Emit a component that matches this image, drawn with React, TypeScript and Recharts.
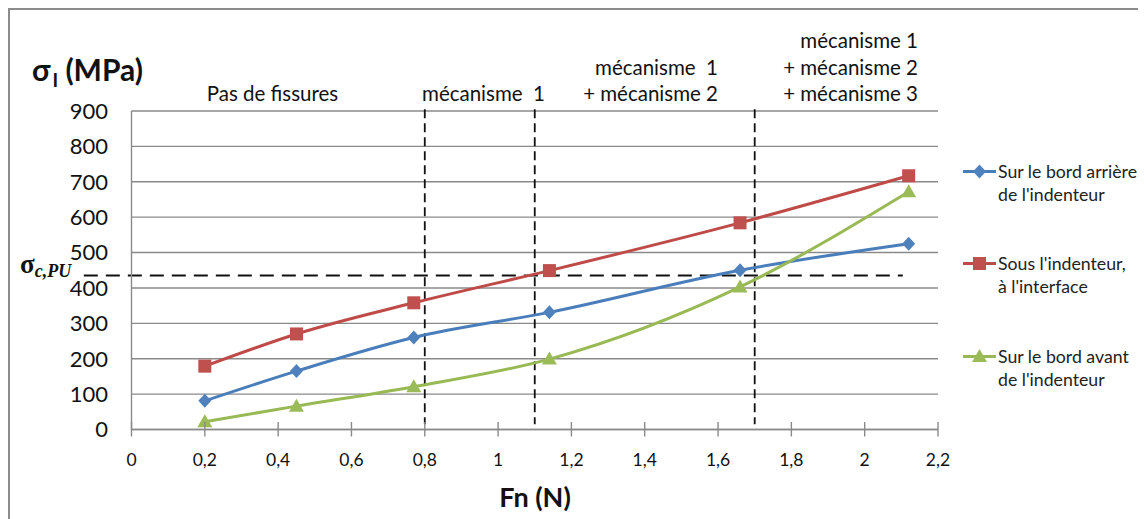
import React from 'react';
import { LineChart, Line, XAxis, YAxis, CartesianGrid, ReferenceLine, Legend } from 'recharts';

// ---- Data ----
const fnValues = [0.2, 0.45, 0.77, 1.14, 1.66, 2.12];
const bordArriere = [81, 165, 260, 331, 450, 525];
const sousIndenteur = [179, 270, 358, 449, 584, 717];
const bordAvant = [22, 66, 121, 199, 403, 672];

const xTicks = [0, 0.2, 0.4, 0.6, 0.8, 1, 1.2, 1.4, 1.6, 1.8, 2, 2.2];
const yTicks = [0, 100, 200, 300, 400, 500, 600, 700, 800, 900];

const mechanismBounds = [0.8, 1.1, 1.7];
const sigmaCPU = 435;
const sigmaLineStart = -0.13;
const sigmaLineEnd = 2.104;

const seriesKeys = ['arriere', 'sous', 'avant'];
const seriesNames = [
  "Sur le bord arrière de l'indenteur",
  "Sous l'indenteur, à l'interface",
  "Sur le bord avant de l'indenteur",
];
const legendLines = [
  ['Sur le bord arrière', "de l'indenteur"],
  ["Sous l'indenteur,", "à l'interface"],
  ['Sur le bord avant', "de l'indenteur"],
];
const regionPas = ['Pas de fissures'];
const regionM1 = ['mécanisme  1'];
const regionM12 = ['mécanisme  1', '+ mécanisme 2'];
const regionM123 = ['mécanisme 1', '+ mécanisme 2', '+ mécanisme 3'];

const data = fnValues.map((fn, i) => ({
  fn,
  arriere: bordArriere[i],
  sous: sousIndenteur[i],
  avant: bordAvant[i],
}));

// ---- Styles ----
const W = 1132;
const H = 512;
const FONT = 'Lato, "Open Sans", sans-serif';
const TEXT = '#111';
const GRID = '#8a8a8a';
const lineColors = ['#4A7EBB', '#BE4B48', '#98B954'];
const markerColors = ['#4F81BD', '#C0504D', '#9BBB59'];
const shapes = ['diamond', 'square', 'triangle'];

const Marker = ({ cx, cy, shape, fill }: any) => {
  if (cx == null || cy == null) return null;
  if (shape === 'diamond') {
    return <polygon points={`${cx},${cy - 7} ${cx + 6.5},${cy} ${cx},${cy + 7} ${cx - 6.5},${cy}`} fill={fill} />;
  }
  if (shape === 'square') {
    return <rect x={cx - 6.5} y={cy - 6.5} width={13} height={13} fill={fill} />;
  }
  return <polygon points={`${cx},${cy - 7.5} ${cx + 7.5},${cy + 5.5} ${cx - 7.5},${cy + 5.5}`} fill={fill} />;
};

const makeDot = (i: number) => (props: any) => (
  <Marker key={`d-${i}-${props.index}`} cx={props.cx} cy={props.cy} shape={shapes[i]} fill={markerColors[i]} />
);

const fmt = (v: number) => String(Number(v.toFixed(1))).replace('.', ',');

const XTick = (props: any) => {
  const { x, y, payload } = props;
  return (
    <g>
      <line x1={x} x2={x} y1={y - 7.5} y2={y + 7} stroke={GRID} strokeWidth={1.4} />
      <text x={x} y={y + 36} textAnchor="middle" fill={TEXT} fontFamily={FONT} fontSize={17.5}>
        {fmt(payload.value)}
      </text>
    </g>
  );
};

const renderLegend = (props: any) => {
  const payload = props.payload || [];
  return (
    <div style={{ position: 'relative', width: 186, height: 240, fontFamily: FONT, fontSize: 17.7, color: '#222' }}>
      {payload.map((entry: any, k: number) => {
        const i = Math.max(0, seriesKeys.indexOf(entry.dataKey));
        return (
          <div key={k} style={{ position: 'absolute', left: 0, top: i * 92.5, display: 'flex', alignItems: 'flex-start' }}>
            <svg width={35} height={23} style={{ flex: 'none' }}>
              <line x1={1} x2={34} y1={11.5} y2={11.5} stroke={lineColors[i]} strokeWidth={3} />
              <Marker cx={17.5} cy={11.5} shape={shapes[i]} fill={markerColors[i]} />
            </svg>
            <div style={{ lineHeight: '23px', whiteSpace: 'nowrap', marginLeft: 1 }}>
              {legendLines[i].map((l, j) => (
                <div key={j}>{l}</div>
              ))}
            </div>
          </div>
        );
      })}
    </div>
  );
};

const topText = (lines: string[], x: number, anchor: 'start' | 'middle' | 'end', lastBaseline: number) => {
  const n = lines.length;
  return lines.map((l, j) => (
    <text
      key={l + j}
      x={x}
      y={lastBaseline - (n - 1 - j) * 26.5}
      textAnchor={anchor}
      fill={TEXT}
      fontFamily={FONT}
      fontSize={20.5}
      style={{ whiteSpace: 'pre' }}
    >
      {l}
    </text>
  ));
};

export default function App() {
  return (
    <div
      style={{
        position: 'relative',
        width: W,
        height: H,
        border: '2px solid #8c8c8c',
        background: '#fff',
        overflow: 'hidden',
      }}
    >
      <LineChart
        width={W}
        height={H}
        data={data}
        margin={{ top: 101, right: 204, bottom: H - 419.5 - 60, left: 0 }}
      >
        <CartesianGrid horizontal vertical={false} stroke={GRID} strokeWidth={1.4} />
        <XAxis
          dataKey="fn"
          type="number"
          domain={[0, 2.2]}
          ticks={xTicks}
          interval={0}
          height={60}
          tickSize={0}
          tickMargin={0}
          axisLine={{ stroke: GRID, strokeWidth: 1.4 }}
          tickLine={false}
          tick={<XTick />}
          label={{
            content: () => (
              <text x={525} y={497} textAnchor="middle" fontFamily={FONT} fontWeight={700} fontSize={27} fill={TEXT}>
                Fn (N)
              </text>
            ),
          }}
        />
        <YAxis
          type="number"
          domain={[0, 900]}
          ticks={yTicks}
          interval={0}
          width={121.5}
          tickSize={0}
          tickMargin={23.5}
          axisLine={{ stroke: GRID, strokeWidth: 1.4 }}
          tickLine={false}
          tick={{ fill: TEXT, fontFamily: FONT, fontSize: 22 }}
          label={{
            content: () => (
              <text x={22} y={71} fontFamily={FONT} fontWeight={700} fontSize={30} fill={TEXT}>
                <tspan>σ</tspan>
                <tspan fontSize={19} dx={2} dy={6}>I</tspan>
                <tspan dy={-6}> (MPa)</tspan>
              </text>
            ),
          }}
        />
        {mechanismBounds.map((b) => (
          <ReferenceLine
            key={b}
            segment={[
              { x: b, y: 905 },
              { x: b, y: 15 },
            ]}
            stroke="#111"
            strokeWidth={1.8}
            strokeDasharray="9 5"
            ifOverflow="visible"
          />
        ))}
        <ReferenceLine
          segment={[
            { x: sigmaLineStart, y: sigmaCPU },
            { x: sigmaLineEnd, y: sigmaCPU },
          ]}
          stroke="#111"
          strokeWidth={2}
          strokeDasharray="14 8"
          ifOverflow="visible"
          label={{
            content: () => (
              <text x={10} y={263} fontFamily='"Liberation Serif", "DejaVu Serif", serif' fontWeight={700} fill={TEXT}>
                <tspan fontSize={27}>σ</tspan>
                <tspan fontSize={18} fontStyle="italic" dy={4}>c,PU</tspan>
              </text>
            ),
          }}
        />
        {seriesKeys.map((k, i) => (
          <Line
            key={k}
            type="monotone"
            dataKey={k}
            name={seriesNames[i]}
            stroke={lineColors[i]}
            strokeWidth={3}
            dot={makeDot(i)}
            activeDot={false}
            isAnimationActive={false}
          />
        ))}
        <Legend
          layout="vertical"
          align="center"
          verticalAlign="middle"
          content={renderLegend}
          wrapperStyle={{ left: 952, top: 149.5, width: 186, height: 240 }}
        />
      </LineChart>
      <svg
        width={W}
        height={120}
        style={{ position: 'absolute', left: 0, top: 0, pointerEvents: 'none' }}
      >
        {topText(regionPas, 262.5, 'middle', 91)}
        {topText(regionM1, 535, 'end', 91)}
        {topText(regionM12, 708, 'end', 91)}
        {topText(regionM123, 908, 'end', 91)}
      </svg>
    </div>
  );
}
